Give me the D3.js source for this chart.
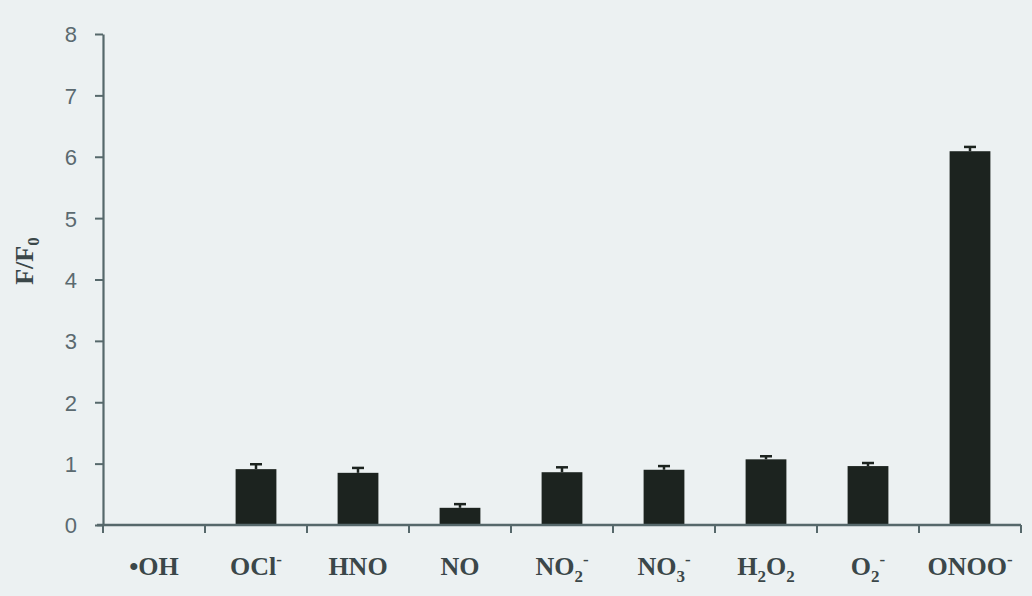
<!DOCTYPE html>
<html lang="en">
<head>
    <meta charset="utf-8">
    <title>F/F0 bar chart</title>
    <style>
        body { margin: 0; background: #ecf1f2; }
        .ytick text { font: 22px "Liberation Sans", Arial, sans-serif; fill: #5b6a70; }
        .cat { font: bold 26px "Liberation Serif", "Times New Roman", serif; fill: #3b4749; }
    </style>
</head>
<body>
<script src="https://cdn.jsdelivr.net/npm/d3@7"></script>
<script>

    // categories (label pieces: plain / sub / sup)
    var categories = ["OH", "OCl", "HNO", "NO", "NO2", "NO3", "H2O2", "O2", "ONOO"];
    var categoryLabels = [
        [["•OH", ""]],
        [["OCl", ""], ["-", "sup"]],
        [["HNO", ""]],
        [["NO", ""]],
        [["NO", ""], ["2", "sub"], ["-", "sup"]],
        [["NO", ""], ["3", "sub"], ["-", "sup"]],
        [["H", ""], ["2", "sub"], ["O", ""], ["2", "sub"]],
        [["O", ""], ["2", "sub"], ["-", "sup"]],
        [["ONOO", ""], ["-", "sup"]]
    ];
    var values = [0.01, 0.91, 0.85, 0.28, 0.86, 0.90, 1.07, 0.96, 6.09];
    var errors = [0, 0.08, 0.08, 0.06, 0.08, 0.06, 0.05, 0.05, 0.07];
    var yTicks = [0, 1, 2, 3, 4, 5, 6, 7, 8];

    var width = 1032, height = 596;
    var margin = {top: 34, right: 11, bottom: 71, left: 103};

    var svg = d3.select("body").append("svg")
        .attr("width", width)
        .attr("height", height);

    svg.append("rect")
        .attr("width", width)
        .attr("height", height)
        .attr("fill", "#ecf1f2");

    var x = d3.scaleBand()
        .domain(categories)
        .range([margin.left, width - margin.right])
        .paddingInner(0.6)
        .paddingOuter(0.3);

    var y = d3.scaleLinear()
        .domain([0, 8])
        .range([height - margin.bottom, margin.top]);

    var axisColor = "#56686b";

    // y axis
    var yAxis = svg.append("g")
        .attr("class", "ytick")
        .attr("transform", "translate(" + margin.left + ",0)")
        .call(d3.axisLeft(y).tickValues(yTicks).tickSize(8).tickSizeOuter(0).tickPadding(18));
    yAxis.select(".domain").attr("stroke", axisColor).attr("stroke-width", 2.2);
    yAxis.selectAll(".tick line").attr("stroke", axisColor).attr("stroke-width", 2);
    yAxis.selectAll("text").attr("dy", "0.36em");

    // bars
    var barColor = "#1c231f";
    svg.selectAll(".bar")
        .data(values)
        .enter()
        .append("rect")
        .attr("class", "bar")
        .attr("x", function (d, i) { return x(categories[i]); })
        .attr("y", function (d) { return y(d); })
        .attr("width", x.bandwidth())
        .attr("height", function (d) { return y(0) - y(d); })
        .attr("fill", barColor);

    // error bars (upper only)
    var capW = 12;
    var eb = svg.selectAll(".err")
        .data(values)
        .enter()
        .append("g")
        .attr("class", "err")
        .attr("stroke", barColor)
        .attr("stroke-width", 2.5);
    eb.append("line")
        .attr("x1", function (d, i) { return x(categories[i]) + x.bandwidth() / 2; })
        .attr("x2", function (d, i) { return x(categories[i]) + x.bandwidth() / 2; })
        .attr("y1", function (d) { return y(d); })
        .attr("y2", function (d, i) { return y(d + errors[i]); });
    eb.append("line")
        .attr("x1", function (d, i) { return x(categories[i]) + x.bandwidth() / 2 - capW / 2; })
        .attr("x2", function (d, i) { return x(categories[i]) + x.bandwidth() / 2 + capW / 2; })
        .attr("y1", function (d, i) { return y(d + errors[i]); })
        .attr("y2", function (d, i) { return y(d + errors[i]); })
        .style("display", function (d, i) { return errors[i] > 0 ? null : "none"; });

    // x axis with ticks between categories
    var x0 = margin.left, x1 = width - margin.right;
    var bounds = d3.range(categories.length + 1).map(function (k) {
        return x0 + (x1 - x0) * k / categories.length;
    });
    var xAxis = svg.append("g");
    xAxis.append("line")
        .attr("x1", x0 - 6).attr("x2", x1)
        .attr("y1", y(0)).attr("y2", y(0))
        .attr("stroke", axisColor).attr("stroke-width", 2.4);
    xAxis.selectAll(".xt")
        .data(bounds)
        .enter()
        .append("line")
        .attr("x1", function (d) { return d; })
        .attr("x2", function (d) { return d; })
        .attr("y1", y(0))
        .attr("y2", y(0) + 8)
        .attr("stroke", axisColor)
        .attr("stroke-width", 2);

    // category labels
    var labels = svg.selectAll(".cat")
        .data(categoryLabels)
        .enter()
        .append("text")
        .attr("class", "cat")
        .attr("text-anchor", "middle")
        .attr("x", function (d, i) { return x(categories[i]) + x.bandwidth() / 2; })
        .attr("y", 575);
    labels.each(function (parts) {
        var t = d3.select(this);
        var offset = 0;
        parts.forEach(function (p) {
            var s = t.append("tspan").text(p[0]);
            var want = p[1] === "sub" ? 7 : (p[1] === "sup" ? -10 : 0);
            if (p[1]) s.attr("font-size", "17px");
            s.attr("dy", want - offset);
            offset = want;
        });
    });

    // y title
    var yt = svg.append("text")
        .attr("class", "cat")
        .attr("text-anchor", "middle")
        .attr("transform", "translate(33," + y(4.3) + ") rotate(-90)");
    yt.append("tspan").text("F/F");
    yt.append("tspan").text("0").attr("font-size", "17px").attr("dy", 6);

</script>
</body>
</html>
